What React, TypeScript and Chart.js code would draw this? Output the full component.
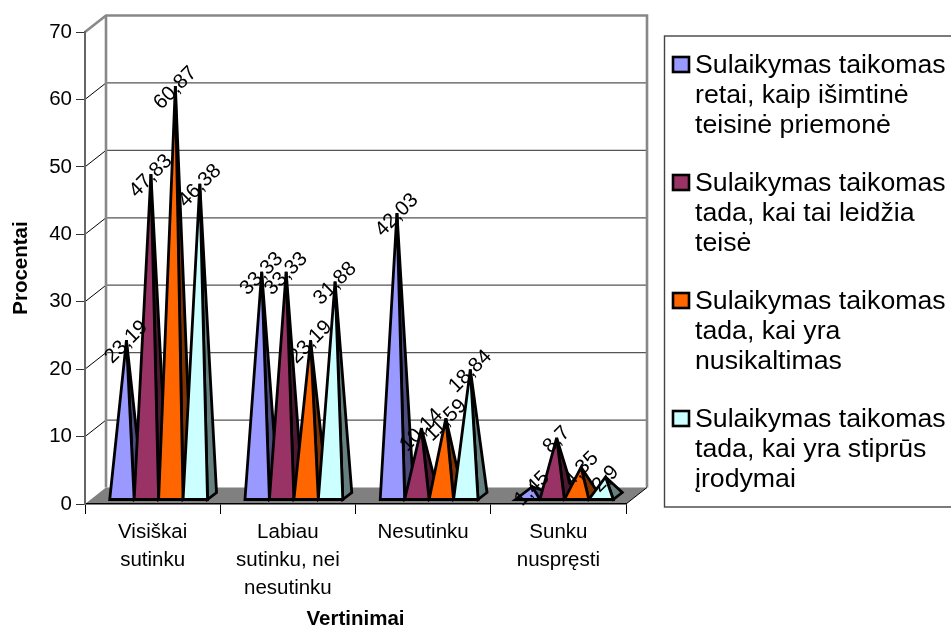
import React, { useEffect, useRef } from "react";
import { Chart, BarController, BarElement, CategoryScale, LinearScale } from "chart.js";

const categories = [["Visiškai", "sutinku"], ["Labiau", "sutinku, nei", "nesutinku"], ["Nesutinku"], ["Sunku", "nuspręsti"]];
const seriesRetai = [23.19, 33.33, 42.03, 1.45];
const seriesTeise = [47.83, 33.33, 10.14, 8.7];
const seriesNusikaltimas = [60.87, 23.19, 11.59, 4.35];
const seriesIrodymai = [46.38, 31.88, 18.84, 2.9];
const seriesValues = [seriesRetai, seriesTeise, seriesNusikaltimas, seriesIrodymai];
const seriesColors = ["#9999FF", "#993366", "#FF6600", "#CCFFFF"];
const seriesNames = [
  ["Sulaikymas taikomas", "retai, kaip išimtinė", "teisinė priemonė"],
  ["Sulaikymas taikomas", "tada, kai tai leidžia", "teisė"],
  ["Sulaikymas taikomas", "tada, kai yra", "nusikaltimas"],
  ["Sulaikymas taikomas", "tada, kai yra stiprūs", "įrodymai"],
];
const yTitle = "Procentai";
const xTitle = "Vertinimai";

const FONT = '"Liberation Sans", Arial, sans-serif';
const WALL_DX = 21;
const WALL_DY = 16.5;
const BAR_SHIFT = 6;
const BASE_LIFT = 4;
const DEPTH_DX = 9;
const DEPTH_DY = 7;

function halfColor(hex: string) {
  const n = parseInt(hex.slice(1), 16);
  const r = (n >> 16) >> 1, g = ((n >> 8) & 255) >> 1, b = (n & 255) >> 1;
  return `rgb(${r},${g},${b})`;
}

function geometry(el: any) {
  const left = el.x - el.width / 2 + BAR_SHIFT;
  const right = el.x + el.width / 2 + BAR_SHIFT;
  const baseY = el.base - BASE_LIFT;
  return {
    left, right, baseY,
    apexX: el.x + BAR_SHIFT + DEPTH_DX / 2,
    apexY: el.y - DEPTH_DY / 2 - BASE_LIFT,
  };
}

class PyramidElement extends BarElement {
  static id = "pyramid";
  // Chart.js paints datasets last to first; the pyramids must overlap first to
  // last, so the painting is done by pyramidPlugin in series order.
  draw() {}
  drawPyramid(ctx: CanvasRenderingContext2D) {
    const g = geometry(this);
    const fill = (this as any).options.backgroundColor as string;
    ctx.save();
    ctx.lineWidth = 2.8;
    ctx.strokeStyle = "#000";
    ctx.lineJoin = "miter";
    ctx.miterLimit = 4;
    ctx.beginPath();
    ctx.moveTo(g.right, g.baseY);
    ctx.lineTo(g.right + DEPTH_DX, g.baseY - DEPTH_DY);
    ctx.lineTo(g.apexX, g.apexY);
    ctx.closePath();
    ctx.fillStyle = halfColor(fill);
    ctx.fill();
    ctx.stroke();
    ctx.beginPath();
    ctx.moveTo(g.left, g.baseY);
    ctx.lineTo(g.right, g.baseY);
    ctx.lineTo(g.apexX, g.apexY);
    ctx.closePath();
    ctx.fillStyle = fill;
    ctx.fill();
    ctx.stroke();
    ctx.restore();
  }
}

class PyramidController extends BarController {
  static id = "pyramid";
  static defaults = { ...BarController.defaults, dataElementType: "pyramid" };
}

Chart.register(PyramidController, PyramidElement, BarElement, BarController, CategoryScale, LinearScale);

const wallPlugin = {
  id: "wall",
  beforeDraw(chart: any) {
    const { ctx, chartArea: a, scales } = chart;
    const backLeft = a.left + WALL_DX, backRight = a.right + WALL_DX;
    const backBottom = a.bottom - WALL_DY, backTop = a.top - WALL_DY;
    ctx.save();
    ctx.fillStyle = "#fff";
    ctx.fillRect(0, 0, chart.width, chart.height);
    ctx.fillStyle = "#808080";
    ctx.beginPath();
    ctx.moveTo(a.left, a.bottom);
    ctx.lineTo(a.right, a.bottom);
    ctx.lineTo(backRight, backBottom);
    ctx.lineTo(backLeft, backBottom);
    ctx.closePath();
    ctx.fill();
    for (const t of scales.y.ticks) {
      if (t.value === 0 || t.value === 70) continue;
      const y = scales.y.getPixelForValue(t.value);
      ctx.strokeStyle = "#555";
      ctx.lineWidth = 1.2;
      ctx.beginPath();
      ctx.moveTo(backLeft, y - WALL_DY);
      ctx.lineTo(backRight, y - WALL_DY);
      ctx.stroke();
      ctx.strokeStyle = "#000";
      ctx.lineWidth = 1;
      ctx.beginPath();
      ctx.moveTo(a.left, y);
      ctx.lineTo(backLeft, y - WALL_DY);
      ctx.stroke();
    }
    ctx.strokeStyle = "#888";
    ctx.lineWidth = 2.6;
    ctx.beginPath();
    ctx.moveTo(a.left, a.top);
    ctx.lineTo(backLeft, backTop);
    ctx.lineTo(backRight, backTop);
    ctx.lineTo(backRight, backBottom);
    ctx.moveTo(backLeft, backTop);
    ctx.lineTo(backLeft, backBottom);
    ctx.stroke();
    ctx.strokeStyle = "#000";
    ctx.lineWidth = 1;
    ctx.beginPath();
    ctx.moveTo(a.right, a.bottom);
    ctx.lineTo(backRight, backBottom);
    ctx.stroke();
    ctx.restore();
  },
};

const pyramidPlugin = {
  id: "pyramids",
  afterDatasetsDraw(chart: any) {
    const { ctx } = chart;
    chart.data.datasets.forEach((_: any, i: number) => {
      chart.getDatasetMeta(i).data.forEach((el: any) => el.drawPyramid(ctx));
    });
    ctx.save();
    ctx.font = `20.5px ${FONT}`;
    ctx.fillStyle = "#000";
    ctx.textAlign = "center";
    ctx.textBaseline = "middle";
    chart.data.datasets.forEach((ds: any, i: number) => {
      chart.getDatasetMeta(i).data.forEach((el: any, j: number) => {
        const g = geometry(el);
        ctx.save();
        ctx.translate(g.apexX, g.apexY + 2);
        ctx.rotate(-Math.PI / 4);
        ctx.fillText(String(ds.data[j]).replace(".", ","), 0, 0);
        ctx.restore();
      });
    });
    ctx.restore();
  },
};

const legendPlugin = {
  id: "sideLegend",
  afterDraw(chart: any) {
    const { ctx } = chart;
    ctx.save();
    ctx.strokeStyle = "#444";
    ctx.lineWidth = 1.4;
    ctx.strokeRect(664.5, 36, 300, 471);
    ctx.font = `26.7px ${FONT}`;
    ctx.textAlign = "left";
    ctx.textBaseline = "alphabetic";
    chart.data.datasets.forEach((ds: any, i: number) => {
      const top = 73 + i * 118;
      ctx.fillStyle = ds.backgroundColor;
      ctx.strokeStyle = "#000";
      ctx.lineWidth = 2.6;
      ctx.fillRect(673, top - 16, 16, 15);
      ctx.strokeRect(673, top - 16, 16, 15);
      ctx.fillStyle = "#000";
      ds.legendLines.forEach((line: string, k: number) => {
        ctx.fillText(line, 695, top + k * 30);
      });
    });
    ctx.restore();
  },
};

export default function App() {
  const ref = useRef<HTMLCanvasElement | null>(null);
  useEffect(() => {
    document.body.style.margin = "0";
    const chart = new Chart(ref.current as HTMLCanvasElement, {
      type: "pyramid" as any,
      data: {
        labels: categories as any,
        datasets: seriesValues.map((data, i) => ({
          label: seriesNames[i].join(" "),
          legendLines: seriesNames[i],
          data,
          backgroundColor: seriesColors[i],
          categoryPercentage: 0.7232,
          barPercentage: 1,
        })) as any,
      },
      options: {
        animation: false,
        responsive: false,
        layout: { padding: { left: 0, top: 32, right: 325, bottom: 0 } },
        plugins: { legend: { display: false }, tooltip: { enabled: false } } as any,
        scales: {
          x: {
            type: "category",
            offset: true,
            afterFit: (s: any) => { s.height = 124; },
            grid: { offset: true, drawOnChartArea: false, tickLength: 10, color: "#000", lineWidth: 1 },
            border: { color: "#000", width: 1.5 },
            ticks: { color: "#000", maxRotation: 0, autoSkip: false, padding: 4, font: { family: FONT, size: 20.5, lineHeight: 1.37 } },
            title: { display: true, text: xTitle, color: "#000", padding: { top: 0, bottom: 0 }, font: { family: FONT, size: 20.5, weight: "bold", lineHeight: 0.85 } },
          },
          y: {
            type: "linear",
            min: 0,
            max: 70,
            afterFit: (s: any) => { s.width = 85; },
            grid: { drawOnChartArea: false, tickLength: 9, color: "#333", lineWidth: 1 },
            border: { color: "#666", width: 2 },
            ticks: { stepSize: 10, color: "#000", padding: 4, font: { family: FONT, size: 20.5 } },
            title: { display: true, text: yTitle, color: "#000", padding: { top: 11, bottom: 0 }, font: { family: FONT, size: 20.5, weight: "bold", lineHeight: 1 } },
          },
        },
      } as any,
      plugins: [wallPlugin, pyramidPlugin, legendPlugin],
    });
    return () => chart.destroy();
  }, []);
  return <canvas ref={ref} width={951} height={628} style={{ display: "block", position: "absolute", left: 0, top: 0 }} />;
}
